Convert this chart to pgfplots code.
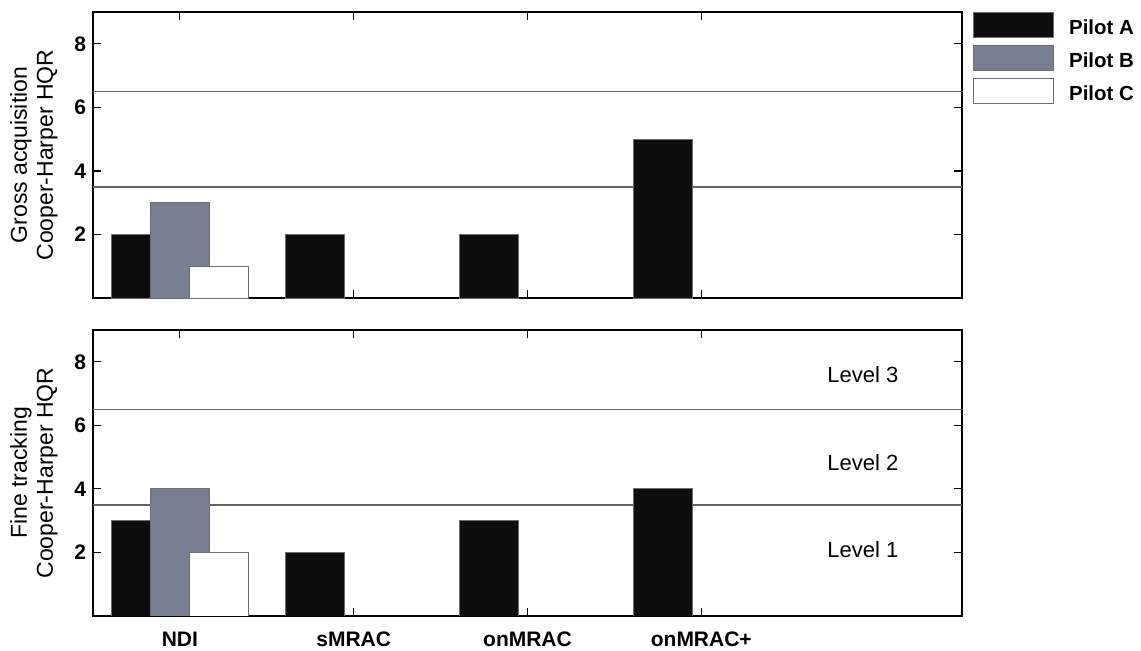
\documentclass[border=0pt]{standalone}
\usepackage{fontspec}
\setmainfont{Liberation Sans}
\usepackage{pgfplots}
\pgfplotsset{compat=1.18}
\definecolor{pilotA}{RGB}{14,14,14}
\definecolor{pilotB}{RGB}{120,126,146}
\definecolor{pilotC}{RGB}{255,255,255}
\definecolor{edge}{RGB}{110,110,110}
\definecolor{refline}{RGB}{100,100,100}
\pgfplotsset{
  hqr/.style={
    scale only axis,
    width=434.5pt, height=143pt,
    xmin=-0.5, xmax=4.5, ymin=0, ymax=9,
    xtick={0,1,2,3},
    ytick={2,4,6,8},
    axis line style={line width=1.2pt},
    major tick style={line width=0.6pt, black},
    major tick length=4pt,
    tick align=inside,
    /pgf/number format/assume math mode=true,
    tick label style={font=\bfseries\fontsize{10.5}{12}\selectfont},
    xticklabel style={yshift=-4.5pt},
    ylabel style={font=\fontsize{11.5}{13}\selectfont, align=center, at={(axis description cs:-0.068,0.5)}, anchor=center},
    clip=true,
  },
  barA/.style={ybar, bar width=0.34, bar shift=-0.222, fill=pilotA, draw=edge, line width=0.4pt},
  barB/.style={ybar, bar width=0.34, bar shift=0, fill=pilotB, draw=edge, line width=0.4pt},
  barC/.style={ybar, bar width=0.34, bar shift=0.222, fill=pilotC, draw=edge, line width=0.4pt},
  hline/.style={sharp plot, no marks, refline, line width=0.75pt, forget plot},
}
\begin{document}
\begin{tikzpicture}
\begin{axis}[hqr,
  at={(0,0)}, anchor=south west,
  xticklabels={},
  ylabel={Gross acquisition\\Cooper-Harper HQR},
  legend style={at={(1,1)}, anchor=north west, xshift=5.5pt, draw=none, fill=none,
    inner sep=0pt, row sep=3.5pt,
    font=\bfseries\fontsize{10.2}{12}\selectfont,
    nodes={inner sep=0pt},
    /tikz/every odd column/.style={column sep=7.5pt}},
  legend cell align=left,
  legend image code/.code={\draw[#1] (0pt,-4.4pt) rectangle (40pt,8.1pt);},
]
\addplot[hline] coordinates {(-0.5,3.5) (4.5,3.5)};
\addplot[hline] coordinates {(-0.5,6.5) (4.5,6.5)};
\addplot[barA] coordinates {(0,2) (1,2) (2,2) (3,5)};
\addplot[barB] coordinates {(0,3)};
\addplot[barC] coordinates {(0,1)};
\legend{Pilot A, Pilot B, Pilot C}
\end{axis}
\begin{axis}[hqr,
  at={(0,-16pt)}, anchor=north west,
  xticklabels={NDI, sMRAC, onMRAC, onMRAC+},
  ylabel={Fine tracking\\Cooper-Harper HQR},
]
\addplot[hline] coordinates {(-0.5,3.5) (4.5,3.5)};
\addplot[hline] coordinates {(-0.5,6.5) (4.5,6.5)};
\addplot[barA] coordinates {(0,3) (1,2) (2,3) (3,4)};
\addplot[barB] coordinates {(0,4)};
\addplot[barC] coordinates {(0,2)};
\node[font=\fontsize{11}{13}\selectfont] at (axis cs:3.93,7.61) {Level 3};
\node[font=\fontsize{11}{13}\selectfont] at (axis cs:3.93,4.82) {Level 2};
\node[font=\fontsize{11}{13}\selectfont] at (axis cs:3.93,2.08) {Level 1};
\end{axis}
\pgfresetboundingbox
\useasboundingbox (-46.5pt,-176pt) rectangle (524pt,149pt);
\end{tikzpicture}
\end{document}
